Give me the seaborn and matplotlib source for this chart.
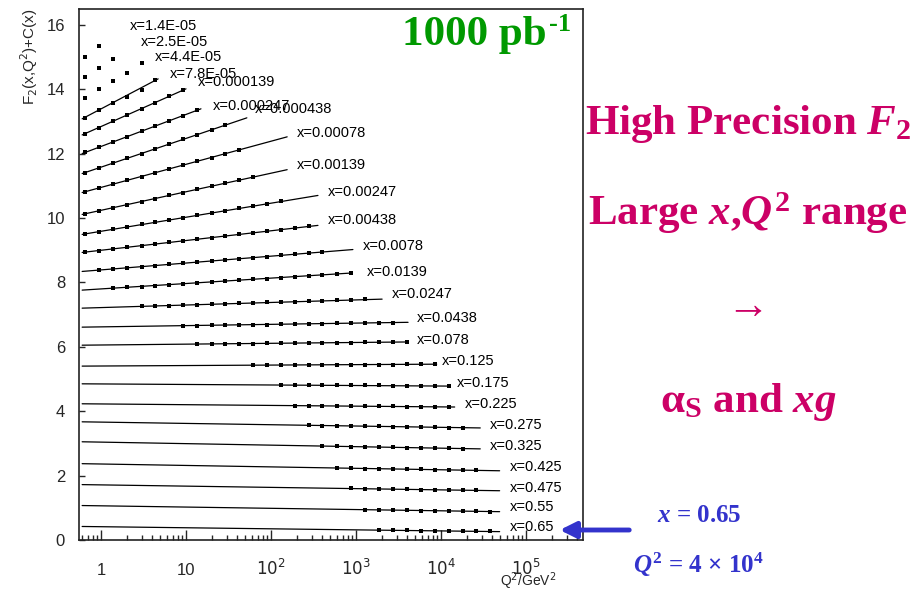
import numpy as np
import pandas as pd
import matplotlib
matplotlib.use("Agg")
import matplotlib.pyplot as plt
import seaborn as sns

# x bins, top to bottom
x_labels = ["x=1.4E-05", "x=2.5E-05", "x=4.4E-05", "x=7.8E-05", "x=0.000139",
            "x=0.000247", "x=0.000438", "x=0.00078", "x=0.00139", "x=0.00247",
            "x=0.00438", "x=0.0078", "x=0.0139", "x=0.0247", "x=0.0438",
            "x=0.078", "x=0.125", "x=0.175", "x=0.225", "x=0.275",
            "x=0.325", "x=0.425", "x=0.475", "x=0.55", "x=0.65"]

# Q2 grid of the simulated points (GeV^2)
q2_grid = [0.65, 0.95, 1.4, 2.0, 3.0, 4.3, 6.3, 9.2, 13.5, 20, 29, 42, 62, 90, 130,
           190, 280, 400, 600, 870, 1270, 1850, 2700, 4000, 5800, 8500, 12500,
           18000, 26000, 38000]

# first Q2 grid bin with a point, per x bin
data_first_bin = [0, 0, 0, 0, 0, 0, 0, 0, 0, 0, 0, 1, 2, 4, 7, 8, 12, 14, 15, 16,
                  17, 18, 19, 20, 21]

# F2 + C(x) of the points
data_f2 = [
    [15.00, 15.34],
    [14.38, 14.66, 14.94],
    [13.73, 14.01, 14.26, 14.50, 14.81],
    [13.11, 13.36, 13.58, 13.76, 13.98, 14.29],
    [12.62, 12.81, 13.01, 13.20, 13.39, 13.58, 13.78, 13.97],
    [12.04, 12.20, 12.37, 12.53, 12.69, 12.86, 13.02, 13.18, 13.35],
    [11.41, 11.56, 11.70, 11.85, 12.00, 12.14, 12.29, 12.44, 12.58, 12.73, 12.88],
    [10.81, 10.93, 11.05, 11.17, 11.28, 11.40, 11.52, 11.64, 11.76, 11.87, 11.99, 12.11],
    [10.13, 10.22, 10.32, 10.41, 10.51, 10.60, 10.70, 10.79, 10.89, 10.98, 11.08, 11.17, 11.27],
    [9.51, 9.58, 9.65, 9.73, 9.80, 9.87, 9.94, 10.01, 10.08, 10.16, 10.23, 10.30, 10.37, 10.44, 10.52],
    [8.94, 8.99, 9.04, 9.09, 9.14, 9.19, 9.24, 9.29, 9.34, 9.39, 9.44, 9.49, 9.54, 9.59, 9.64, 9.69, 9.74],
    [8.38, 8.42, 8.45, 8.49, 8.52, 8.56, 8.59, 8.63, 8.66, 8.70, 8.73, 8.77, 8.80, 8.84, 8.87, 8.91, 8.94],
    [7.82, 7.85, 7.87, 7.90, 7.93, 7.96, 7.98, 8.01, 8.04, 8.07, 8.09, 8.12, 8.15, 8.18, 8.20, 8.23, 8.26, 8.29],
    [7.26, 7.27, 7.28, 7.30, 7.31, 7.32, 7.34, 7.35, 7.36, 7.38, 7.39, 7.40, 7.42, 7.43, 7.44, 7.45, 7.47],
    [6.66, 6.66, 6.67, 6.68, 6.68, 6.69, 6.69, 6.70, 6.71, 6.71, 6.72, 6.73, 6.73, 6.74, 6.75, 6.75],
    [6.09, 6.09, 6.09, 6.10, 6.10, 6.11, 6.11, 6.12, 6.12, 6.12, 6.13, 6.13, 6.14, 6.14, 6.15, 6.15],
    [5.43, 5.43, 5.43, 5.44, 5.44, 5.44, 5.44, 5.45, 5.45, 5.45, 5.45, 5.46, 5.46, 5.46],
    [4.82, 4.82, 4.81, 4.81, 4.81, 4.80, 4.80, 4.80, 4.79, 4.79, 4.79, 4.79, 4.78],
    [4.17, 4.17, 4.17, 4.16, 4.16, 4.15, 4.15, 4.15, 4.14, 4.14, 4.14, 4.13],
    [3.56, 3.55, 3.55, 3.54, 3.53, 3.53, 3.52, 3.51, 3.51, 3.50, 3.49, 3.49],
    [2.92, 2.91, 2.90, 2.89, 2.89, 2.88, 2.87, 2.86, 2.86, 2.85, 2.84],
    [2.24, 2.23, 2.22, 2.21, 2.21, 2.20, 2.19, 2.18, 2.18, 2.17, 2.16],
    [1.60, 1.59, 1.58, 1.58, 1.57, 1.56, 1.56, 1.55, 1.55, 1.54],
    [0.94, 0.93, 0.93, 0.92, 0.91, 0.91, 0.90, 0.89, 0.89, 0.88],
    [0.31, 0.30, 0.30, 0.29, 0.29, 0.28, 0.28, 0.27, 0.27],
]

# theory curves: from Q2=0.6 to theory_q2_hi (none for the three lowest x bins)
nan = np.nan
theory_q2_lo = 0.6
theory_q2_hi = [nan, nan, nan, 4.7, 10, 15, 52, 155, 155, 357, 357, 920, 870, 2030,
                4100, 4100, 8900, 11700, 14500, 29000, 29000, 49000, 49000, 49000, 49000]
theory_f2_lo = [nan, nan, nan, 13.08, 12.58, 12.00, 11.38, 10.79, 10.11, 9.49, 8.93,
                8.34, 7.76, 7.20, 6.61, 6.05, 5.40, 4.85, 4.23, 3.67, 3.05, 2.37, 1.72,
                1.07, 0.42]
theory_f2_hi = [nan, nan, nan, 14.32, 14.01, 13.39, 13.11, 12.52, 11.50, 10.70, 9.77,
                9.02, 8.29, 7.48, 6.76, 6.15, 5.46, 4.78, 4.13, 3.48, 2.83, 2.15, 1.53,
                0.88, 0.26]

# where the bin labels sit
label_q2 = [2.19, 2.95, 4.32, 6.49, 13.8, 20.8, 64.8, 202, 202, 468, 468, 1205, 1346,
            2640, 5220, 5220, 10200, 15500, 19200, 38000, 38000, 65000, 65000, 65000, 65000]
label_y = [15.96, 15.46, 15.00, 14.47, 14.23, 13.48, 13.39, 12.65, 11.66, 10.82, 9.95,
           9.12, 8.31, 7.63, 6.89, 6.21, 5.56, 4.88, 4.23, 3.58, 2.93, 2.26, 1.63, 1.01, 0.39]

# long-form tables for seaborn
pts = []
for i, lab in enumerate(x_labels):
    for j, v in enumerate(data_f2[i]):
        pts.append((lab, q2_grid[data_first_bin[i] + j], v))
points = pd.DataFrame(pts, columns=["bin", "q2", "f2"])

th = []
for i, lab in enumerate(x_labels):
    if not np.isnan(theory_q2_hi[i]):
        th.append((lab, theory_q2_lo, theory_f2_lo[i]))
        th.append((lab, theory_q2_hi[i], theory_f2_hi[i]))
theory = pd.DataFrame(th, columns=["bin", "q2", "f2"])

sns.set_theme(style="white")
plt.rcParams["font.family"] = ["Liberation Sans", "DejaVu Sans"]
plt.rcParams["mathtext.fontset"] = "custom"
plt.rcParams["mathtext.rm"] = "Liberation Serif:bold"
plt.rcParams["mathtext.bf"] = "Liberation Serif:bold"
plt.rcParams["mathtext.it"] = "Liberation Serif:italic:bold"

W, H = 922, 591
fig = plt.figure(figsize=(W / 100, H / 100), dpi=100)
ax = fig.add_axes([79 / W, 1 - 540 / H, (583 - 79) / W, (540 - 9) / H])
ax.set_xscale("log")

sns.lineplot(data=theory, x="q2", y="f2", units="bin", estimator=None, sort=False,
             color="black", linewidth=0.9, legend=False, ax=ax)
sns.scatterplot(data=points, x="q2", y="f2", marker="s", s=10, color="black",
                linewidth=0, legend=False, ax=ax)

for lab, xq, yv in zip(x_labels, label_q2, label_y):
    ax.text(xq, yv, lab, fontsize=10.5, ha="left", va="center", color="black")

ax.set_xlim(0.551, 4.69e5)
ax.set_ylim(0.046, 16.49)
ax.set_xlabel("")
ax.set_ylabel("")
ax.set_yticks([0, 2, 4, 6, 8, 10, 12, 14, 16])
ax.set_yticklabels(["0", "2", "4", "6", "8", "10", "12", "14", "16"], fontsize=12)
ax.set_xticks([1, 10, 100, 1e3, 1e4, 1e5])
ax.set_xticklabels(["1", "10", "$10^{2}$", "$10^{3}$", "$10^{4}$", "$10^{5}$"],
                   fontsize=12, math_fontfamily="dejavusans")
for t in ax.get_xticklabels():
    t.set_va("baseline")
ax.xaxis.set_minor_locator(matplotlib.ticker.LogLocator(base=10, subs=np.arange(2, 10)))
ax.xaxis.set_minor_formatter(matplotlib.ticker.NullFormatter())
ax.tick_params(axis="x", which="major", direction="in", length=7, width=1, pad=25, bottom=True)
ax.tick_params(axis="x", which="minor", direction="in", length=3.5, width=1, bottom=True)
ax.tick_params(axis="y", which="major", direction="in", length=4, width=1, pad=10, left=True)
for sp in ax.spines.values():
    sp.set_color("#222222")
    sp.set_linewidth(1.2)


def fx(px):
    return px / W


def fy(py):
    return 1 - py / H


fig.text(fx(29), fy(57), "F$_2$(x,Q$^2$)+C(x)", rotation=90, ha="center", va="center",
         fontsize=11, math_fontfamily="dejavusans")
fig.text(fx(556), fy(586), "Q$^2$/GeV$^2$", ha="right", va="baseline", fontsize=10,
         math_fontfamily="dejavusans")

serif = ["Liberation Serif", "DejaVu Serif"]
magenta = "#CC0066"
blue = "#3333CC"
green = "#009900"
fig.text(fx(402), fy(45), "1000 pb", ha="left", va="baseline", fontsize=31,
         family=serif, weight="bold", color=green)
fig.text(fx(549), fy(31), "-1", ha="left", va="baseline", fontsize=19,
         family=serif, weight="bold", color=green)
fig.text(fx(748), fy(134), "High Precision $F_2$", ha="center", va="baseline",
         fontsize=31, family=serif, weight="bold", color=magenta)
fig.text(fx(748), fy(225), "Large $x$,$Q^2$ range", ha="center", va="baseline",
         fontsize=31, family=serif, weight="bold", color=magenta)
fig.text(fx(748), fy(308), "\u2192", ha="center", va="center",
         fontsize=31, family=serif, color=magenta)
fig.text(fx(748), fy(412), r"$\mathrm{\alpha}_\mathrm{S}$ and $xg$", ha="center",
         va="baseline", fontsize=31, family=serif, weight="bold", color=magenta)
fig.text(fx(657), fy(522), "$x$ = 0.65", ha="left", va="baseline", fontsize=18,
         family=serif, weight="bold", color=blue)
fig.text(fx(633), fy(573), "$Q^2$ = 4 \u00d7 10$^4$", ha="left", va="baseline",
         fontsize=18, family=serif, weight="bold", color=blue)
ax.annotate("", xy=(fx(557), fy(530)), xytext=(fx(632), fy(530)),
            xycoords="figure fraction", textcoords="figure fraction",
            arrowprops=dict(arrowstyle="-|>", color=blue, lw=3.5, mutation_scale=24),
            annotation_clip=False)

fig.savefig("out.png", dpi=100)
